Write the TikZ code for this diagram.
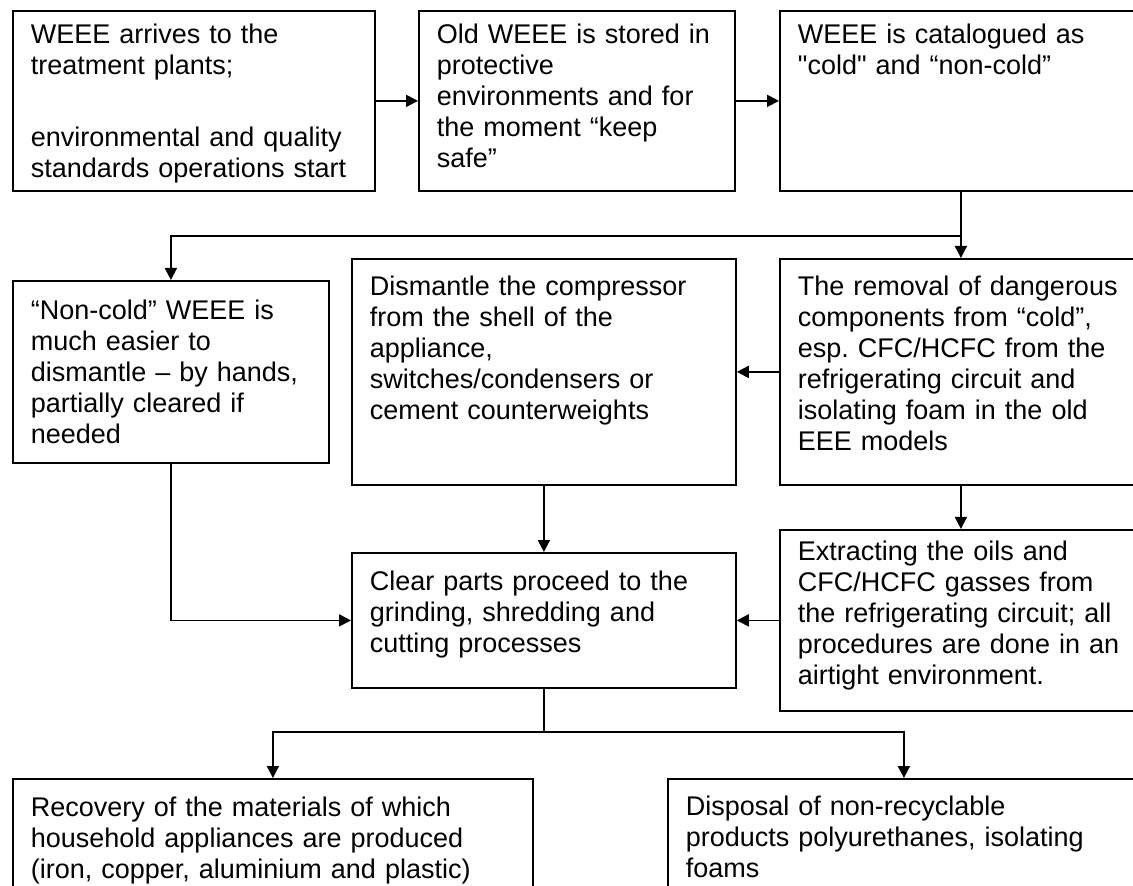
\documentclass[tikz,border=0pt]{standalone}
\usepackage{fontspec}
\setmainfont{Liberation Sans}[Ligatures=TeXOff]
\usetikzlibrary{arrows.meta}
\frenchspacing
\begin{document}
\begin{tikzpicture}[x=0.5pt,y=-0.5pt,
  box/.style={draw, line width=0.9pt, anchor=north west, align=left,
    inner xsep=9pt, inner ysep=6pt,
    font=\fontsize{13.5pt}{15.55pt}\selectfont},
  flow/.style={line width=0.9pt, -{Triangle[length=6pt,width=6pt]}},
  link/.style={line width=0.9pt}]
\useasboundingbox (0,0) rectangle (1133,886);
\clip (0,0) rectangle (1133,886);
\node [box, text width=163pt, text height=10.2pt, text depth=67.8pt] (arrive) at (12,10) {WEEE arrives to the\\treatment plants;\\[20.5pt]environmental and quality\\standards operations start};
\node [box, text width=140pt, text height=10.2pt, text depth=67.8pt] (store) at (418,10) {Old WEEE is stored in\\protective\\environments and for\\the moment “keep\\safe”};
\node [box, text width=163pt, text height=10.2pt, text depth=67.8pt] (sort) at (779,10) {WEEE is catalogued as\\"cold" and “non-cold”};
\node [box, text width=140pt, text height=13.2pt, text depth=65.8pt] (noncold) at (12,280) {“Non-cold” WEEE is\\much easier to\\dismantle – by hands,\\partially cleared if\\needed};
\node [box, text width=174pt, text height=12.2pt, text depth=88.8pt] (dismantle) at (351,258) {Dismantle the compressor\\from the shell of the\\appliance,\\switches/condensers or\\cement counterweights};
\node [box, text width=163pt, text height=12.2pt, text depth=88.8pt] (removal) at (779,258) {The removal of dangerous\\components from “cold”,\\esp. CFC/HCFC from the\\refrigerating circuit and\\isolating foam in the old\\EEE models};
\node [box, text width=174pt, text height=12.7pt, text depth=42.8pt] (clear) at (351,552) {Clear parts proceed to the\\grinding, shredding and\\cutting processes};
\node [box, text width=163pt, text height=9.2pt, text depth=69.3pt] (extract) at (779,529) {Extracting the oils and\\CFC/HCFC gasses from\\the refrigerating circuit; all\\procedures are done in an\\airtight environment.};
\node [box, text width=242pt, text height=12.7pt, text depth=75.3pt] (recover) at (12,778) {Recovery of the materials of which\\household appliances are produced\\(iron, copper, aluminium and plastic)};
\node [box, text width=218pt, text height=12.2pt, text depth=75.8pt] (dispose) at (667,778) {Disposal of non-recyclable\\products polyurethanes, isolating\\foams};
\coordinate (fork1) at (960,236);
\coordinate (fork2) at (543,732);
\draw [flow] (arrive) -- (store);
\draw [flow] (store) -- (sort);
\draw [flow] (sort.south) -- (removal.north);
\draw [flow] (fork1) -| (noncold.north);
\draw [flow] (removal) -- (dismantle);
\draw [flow] (removal.south) -- (extract.north);
\draw [flow] (dismantle.south) -- (clear.north);
\draw [flow] (extract) -- (clear);
\draw [flow] (noncold.south) |- (clear.west);
\draw [link] (clear.south) -- (clear.south |- fork2);
\draw [flow] (fork2) -| (recover.north);
\draw [flow] (fork2) -| (dispose.north);
\end{tikzpicture}
\end{document}
